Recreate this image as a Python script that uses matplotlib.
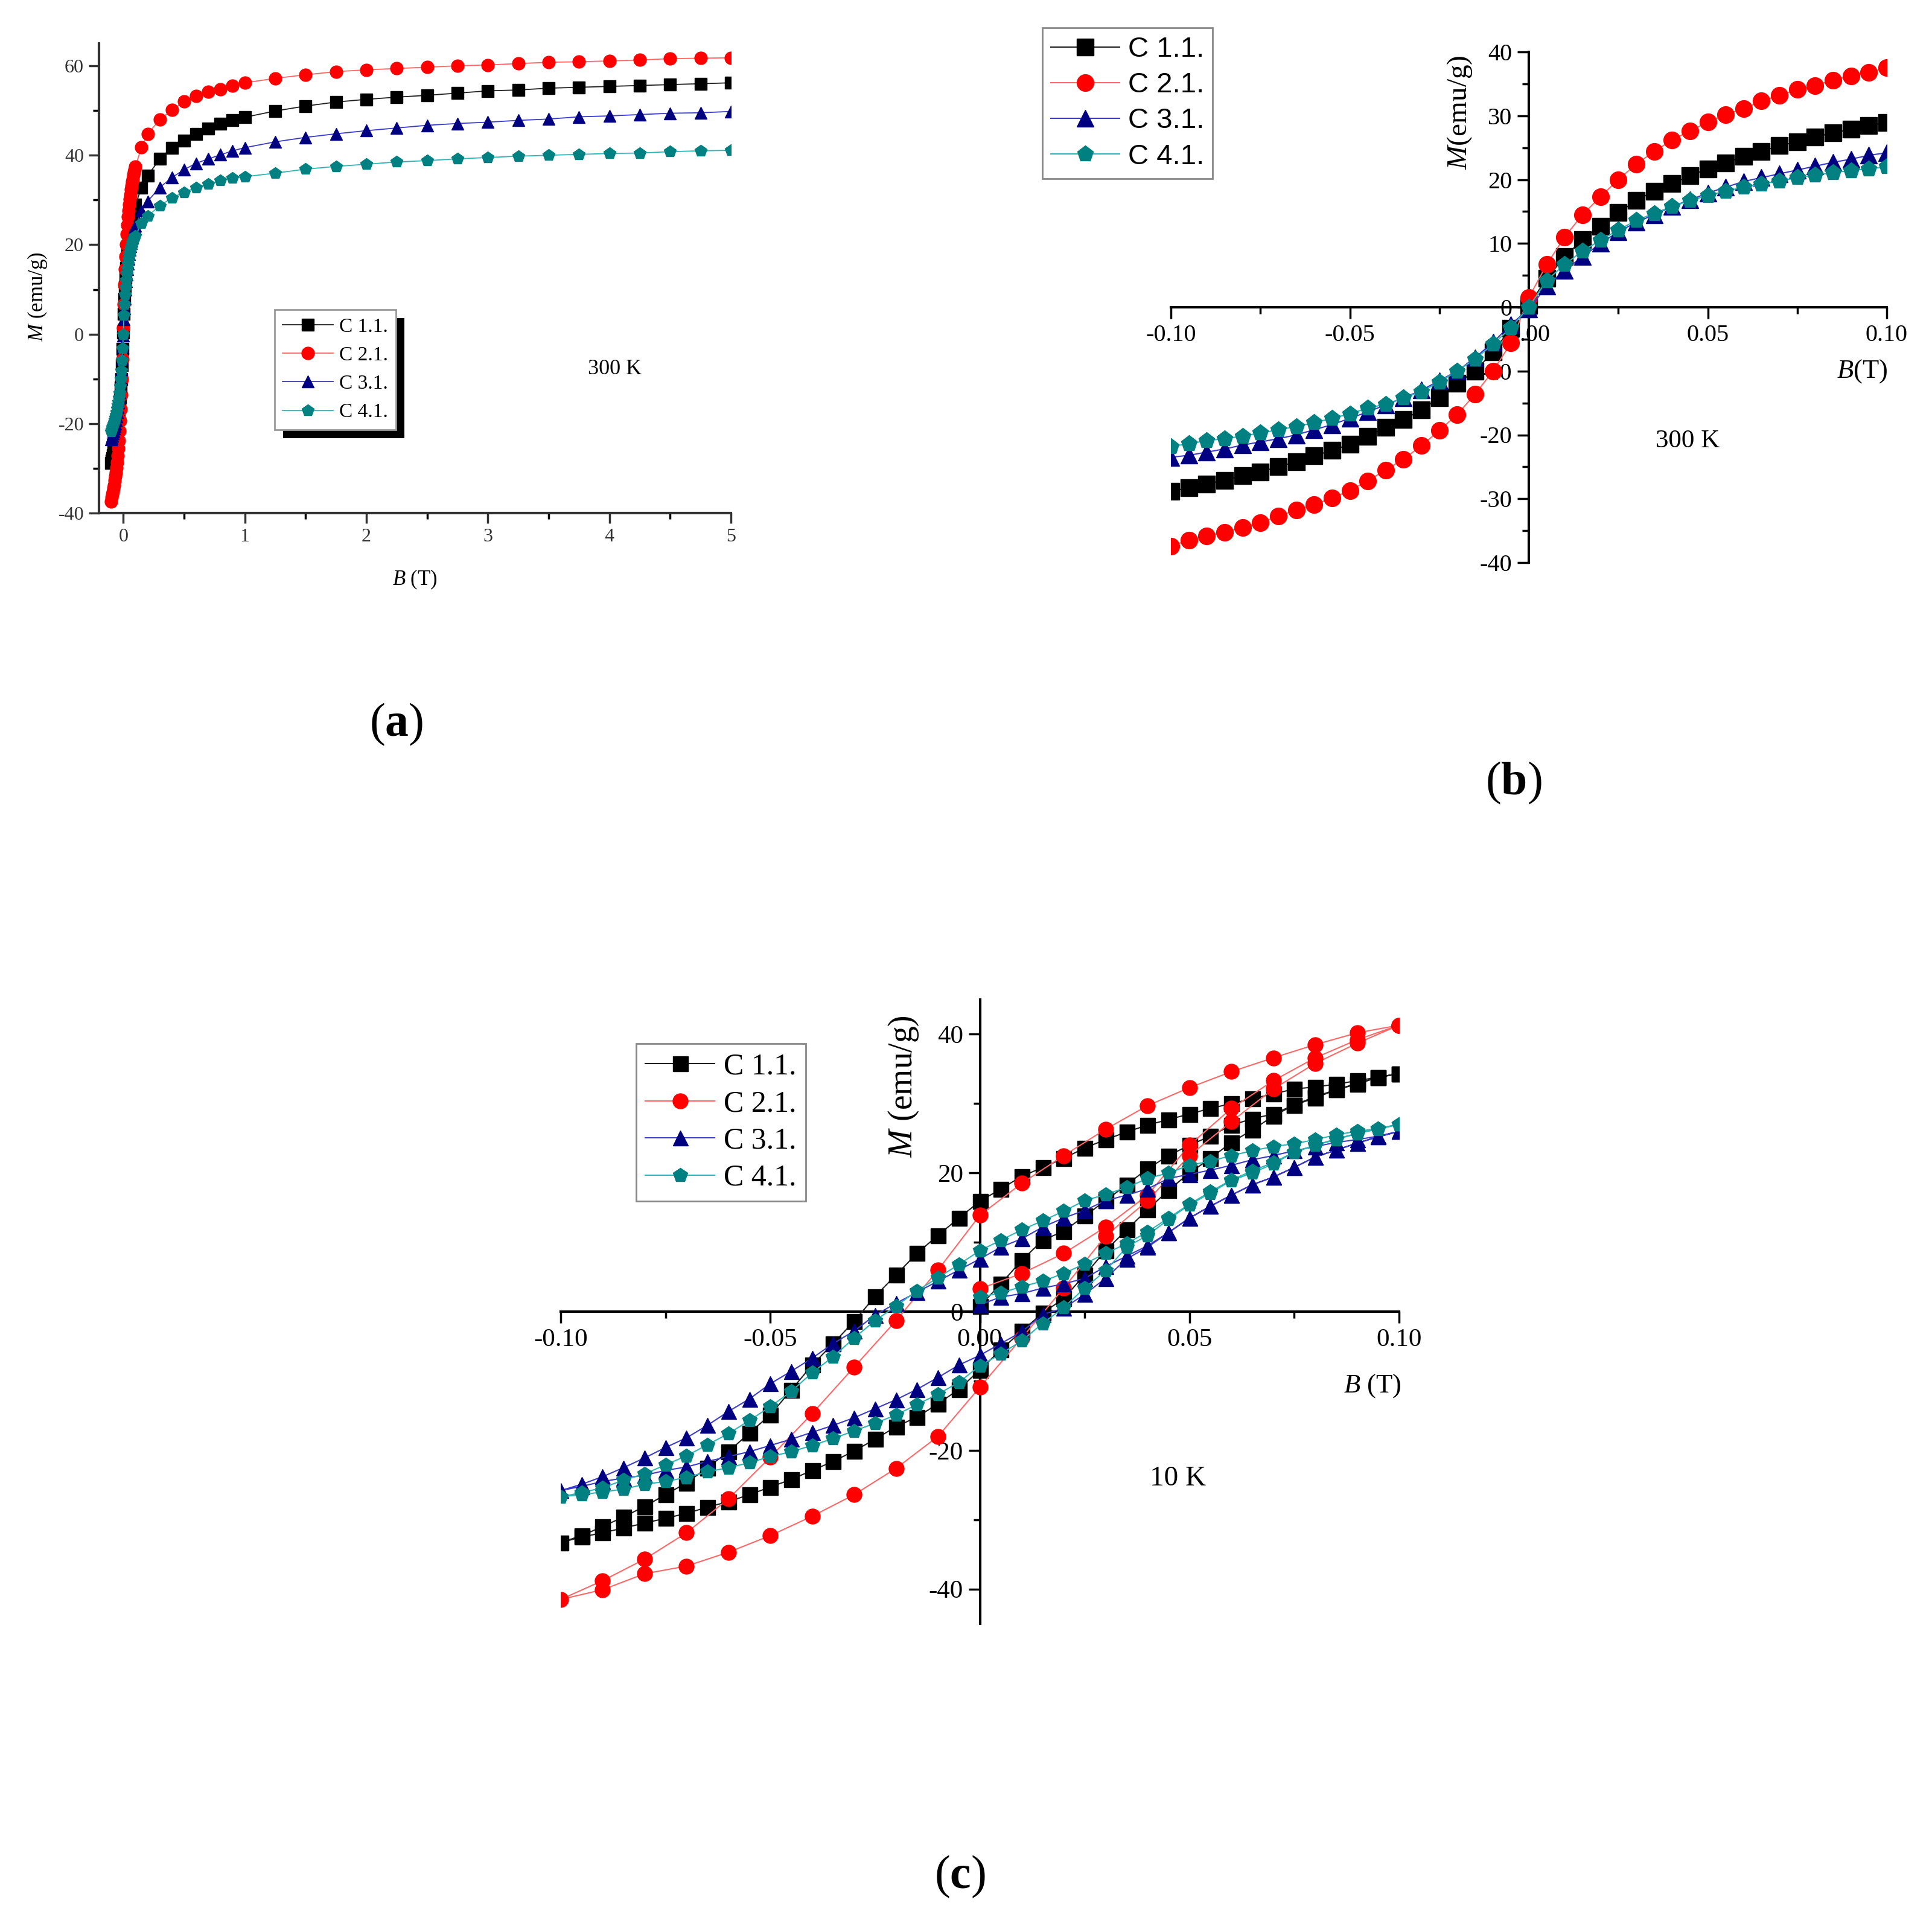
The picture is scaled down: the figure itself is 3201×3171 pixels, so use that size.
import matplotlib
matplotlib.use('Agg')
import matplotlib.pyplot as plt
from matplotlib.ticker import MultipleLocator
from matplotlib.patches import Rectangle

plt.rcParams['font.family'] = ['Liberation Serif', 'DejaVu Serif']
plt.rcParams['mathtext.fontset'] = 'custom'
plt.rcParams['mathtext.rm'] = 'Liberation Serif'
plt.rcParams['mathtext.it'] = 'Liberation Serif:italic'
plt.rcParams['mathtext.bf'] = 'Liberation Serif:bold'
plt.rcParams['axes.unicode_minus'] = False

# ---- data ---------------------------------------------------------------
SAMPLES = ['C 1.1.', 'C 2.1.', 'C 3.1.', 'C 4.1.']

# field sweep used in (b) and low-field part of (a), in T
B_SWEEP = [-0.1, -0.095, -0.09, -0.085, -0.08, -0.075, -0.07, -0.065, -0.06, -0.055,
           -0.05, -0.045, -0.04, -0.035, -0.03, -0.025, -0.02, -0.015, -0.01, -0.005,
           0.0, 0.005, 0.01, 0.015, 0.02, 0.025, 0.03, 0.035, 0.04, 0.045,
           0.05, 0.055, 0.06, 0.065, 0.07, 0.075, 0.08, 0.085, 0.09, 0.095, 0.1]

# 300 K, low field (emu/g)
M300_C11 = [-28.8, -28.3, -27.7, -27.1, -26.4, -25.8, -25.0, -24.2, -23.3, -22.4,
            -21.5, -20.2, -18.8, -17.6, -16.1, -14.2, -11.9, -10.0, -7.0, -3.3,
            0.3, 4.5, 7.9, 10.6, 12.7, 14.8, 16.7, 18.2, 19.4, 20.6,
            21.7, 22.6, 23.6, 24.4, 25.3, 25.9, 26.7, 27.3, 27.9, 28.5, 28.9]
M300_C21 = [-37.4, -36.5, -35.8, -35.3, -34.5, -33.8, -32.7, -31.8, -30.9, -29.9,
            -28.7, -27.2, -25.5, -23.8, -21.7, -19.3, -16.8, -13.6, -10.0, -5.6,
            1.5, 6.7, 11.0, 14.5, 17.3, 20.0, 22.4, 24.4, 26.2, 27.6,
            29.0, 30.2, 31.1, 32.3, 33.2, 34.1, 34.7, 35.6, 36.2, 36.8, 37.5]
M300_C31 = [-23.5, -23.2, -22.7, -22.2, -21.6, -21.1, -20.6, -20.0, -19.2, -18.4,
            -17.4, -16.4, -15.3, -14.2, -13.0, -11.5, -10.0, -7.9, -5.5, -2.7,
            -0.3, 3.3, 5.8, 7.9, 10.0, 11.8, 13.3, 14.5, 15.8, 16.8,
            17.9, 18.8, 19.7, 20.3, 20.9, 21.5, 22.1, 22.7, 23.2, 23.8, 24.2]
M300_C41 = [-21.8, -21.4, -20.9, -20.6, -20.2, -19.7, -19.2, -18.7, -18.1, -17.4,
            -16.7, -15.8, -15.2, -14.2, -13.2, -11.7, -10.0, -8.1, -5.8, -3.2,
            0.0, 4.2, 6.7, 8.8, 10.5, 12.1, 13.6, 14.7, 15.8, 16.7,
            17.5, 18.2, 18.8, 19.3, 19.8, 20.3, 20.7, 21.1, 21.4, 21.7, 22.0]

# 300 K, high field (a)
B_HIGH = [0.15, 0.2, 0.3, 0.4, 0.5, 0.6, 0.7, 0.8, 0.9, 1.0, 1.25, 1.5, 1.75,
          2.0, 2.25, 2.5, 2.75, 3.0, 3.25, 3.5, 3.75, 4.0, 4.25, 4.5, 4.75, 5.0]
MH_C11 = [32.8, 35.4, 39.2, 41.7, 43.3, 44.8, 46.0, 47.0, 47.8, 48.5, 49.9, 51.0, 51.9,
          52.5, 53.0, 53.4, 53.9, 54.4, 54.6, 55.0, 55.2, 55.4, 55.6, 55.8, 56.0, 56.2]
MH_C21 = [41.8, 44.7, 48.0, 50.1, 52.0, 53.2, 54.2, 54.8, 55.5, 56.2, 57.2, 58.0, 58.7,
          59.1, 59.4, 59.7, 60.0, 60.2, 60.5, 60.8, 60.9, 61.1, 61.3, 61.6, 61.7, 61.8]
MH_C31 = [27.6, 29.7, 32.8, 35.0, 36.8, 38.2, 39.2, 40.1, 41.0, 41.7, 43.0, 44.0, 44.8,
          45.5, 46.1, 46.7, 47.1, 47.4, 47.8, 48.1, 48.6, 48.8, 49.1, 49.4, 49.5, 49.8]
MH_C41 = [24.8, 26.4, 28.7, 30.5, 31.7, 32.8, 33.6, 34.3, 34.9, 35.2, 36.0, 36.9, 37.5,
          38.0, 38.5, 38.8, 39.2, 39.5, 39.8, 40.0, 40.2, 40.4, 40.5, 40.8, 41.0, 41.1]

# 10 K hysteresis loops: initial curve (0 -> 0.1), down sweep (0.1 -> -0.1),
# up sweep (-0.1 -> 0.1); C 2.1. was measured in 0.01 T steps
B_INIT = B_SWEEP[20:]
B_DOWN = B_SWEEP[::-1]
B_UP = B_SWEEP[1:]
B_INIT_C = B_SWEEP[20::2]
B_DOWN_C = B_SWEEP[::-2]
B_UP_C = B_SWEEP[2::2]

M10_C11_INIT = [0.8, 4.0, 7.4, 10.3, 11.6, 13.8, 16.0, 18.3, 20.6, 22.5, 24.0,
                25.3, 26.9, 27.8, 28.5, 29.8, 30.8, 32.0, 32.8, 33.8, 34.3]
M10_C11_DOWN = [34.3, 33.8, 33.3, 32.8, 32.4, 32.1, 31.4, 30.7, 30.0, 29.3, 28.5,
                27.7, 26.9, 25.9, 24.8, 23.6, 22.1, 20.8, 19.5, 17.7, 15.9,
                13.5, 11.0, 8.4, 5.3, 2.2, -1.4, -4.6, -7.7, -11.3, -14.9,
                -17.5, -20.2, -22.5, -24.7, -26.4, -28.1, -29.6, -31.0, -32.3, -33.3]
M10_C11_UP = [-32.5, -31.9, -31.2, -30.5, -29.8, -29.1, -28.2, -27.4, -26.4, -25.3,
              -24.2, -22.9, -21.6, -20.1, -18.4, -16.6, -15.2, -13.3, -11.2, -8.4,
              -5.5, -2.8, -0.2, 1.9, 5.3, 8.8, 11.8, 14.7, 17.5, 20.0,
              22.1, 24.4, 26.2, 28.2, 29.8, 31.0, 32.0, 32.9, 33.8, 34.3]

M10_C21_INIT = [3.3, 5.5, 8.4, 12.2, 16.8, 24.0, 29.3, 33.3, 36.6, 39.2, 41.3]
M10_C21_DOWN = [41.3, 40.2, 38.5, 36.6, 34.6, 32.3, 29.7, 26.3, 22.5, 18.5, 13.9,
                6.0, -1.3, -8.0, -14.7, -21.0, -27.0, -31.9, -35.7, -38.8, -41.5]
M10_C21_UP = [-40.1, -37.8, -36.7, -34.7, -32.3, -29.5, -26.4, -22.6, -18.0, -10.9,
              -3.8, 3.4, 10.9, 16.0, 22.5, 27.4, 32.1, 35.8, 38.7, 41.3]

M10_C31_INIT = [1.0, 2.1, 2.6, 3.4, 4.0, 4.8, 6.5, 8.0, 9.5, 11.4, 13.5,
                15.2, 16.8, 18.3, 19.4, 20.8, 22.3, 23.3, 24.3, 25.2, 26.0]
M10_C31_DOWN = [26.0, 25.3, 24.8, 24.4, 23.8, 23.2, 22.5, 21.9, 21.1, 20.4, 19.8,
                19.2, 17.7, 16.8, 16.0, 14.6, 13.5, 12.2, 10.5, 9.3, 7.6,
                6.0, 4.4, 2.8, 1.2, -0.5, -2.8, -4.6, -6.7, -8.6, -10.4,
                -12.6, -14.4, -16.4, -18.2, -19.6, -21.1, -22.5, -23.8, -24.9, -25.8]
M10_C31_UP = [-25.2, -24.5, -24.0, -23.6, -22.9, -22.4, -21.6, -20.9, -20.2, -19.3,
              -18.4, -17.4, -16.4, -15.3, -14.0, -12.7, -11.2, -9.5, -7.7, -6.3,
              -4.6, -2.9, -0.4, 0.5, 2.5, 4.8, 7.6, 9.3, 11.4, 13.5,
              15.2, 16.8, 18.3, 19.4, 20.8, 22.3, 23.3, 24.3, 25.2, 26.0]

M10_C41_INIT = [2.1, 2.7, 3.6, 4.4, 5.5, 6.9, 8.4, 9.8, 11.5, 13.5, 15.5,
                17.3, 19.0, 20.3, 21.5, 23.0, 24.0, 24.9, 25.7, 26.4, 27.0]
M10_C41_DOWN = [27.0, 26.4, 26.0, 25.5, 24.8, 24.2, 23.8, 23.2, 22.5, 21.7, 21.1,
                20.0, 19.2, 17.9, 16.9, 16.0, 14.5, 13.1, 11.8, 10.3, 8.8,
                6.8, 4.9, 3.0, 0.8, -1.3, -3.8, -6.5, -8.8, -11.5, -13.7,
                -15.7, -17.6, -19.2, -20.8, -22.1, -23.4, -24.3, -25.4, -26.1, -26.7]
M10_C41_UP = [-26.4, -26.0, -25.6, -24.9, -24.5, -23.9, -23.1, -22.5, -21.8, -20.9,
              -20.2, -19.3, -18.3, -17.2, -16.1, -14.9, -13.4, -11.9, -10.2, -7.8,
              -6.1, -4.2, -1.7, 0.6, 3.4, 5.9, 9.3, 11.0, 13.3, 15.4,
              17.1, 18.9, 20.0, 21.3, 23.0, 24.0, 24.8, 25.7, 26.3, 27.0]

# ---- styles ---------------------------------------------------------------
MARKERS = ['s', 'o', '^', 'p']
MCOLORS = ['#000000', '#ff0000', '#000080', '#008080']
LCOLORS = ['#202020', '#ff6666', '#3a3acc', '#30b5b5']

W, H = 3201, 3171
fig = plt.figure(figsize=(W / 100, H / 100), dpi=100)


def fx(px):
    return px / W


def fy(py):
    return 1 - py / H


def style_ticks(ax, size, major=14, minor=8, width=2.5):
    ax.tick_params(which='major', direction='out', length=major, width=width,
                   labelsize=size, pad=6)
    ax.tick_params(which='minor', direction='out', length=minor, width=width)


def center_spines(ax, lw=3):
    for s in ['top', 'right']:
        ax.spines[s].set_visible(False)
    for s in ['left', 'bottom']:
        ax.spines[s].set_position(('data', 0))
        ax.spines[s].set_linewidth(lw)


# ---- (a) 300 K full range -------------------------------------------------
ax_a = fig.add_axes([fx(164), fy(850), fx(1211 - 164), (850 - 72) / H])
low = [M300_C11, M300_C21, M300_C31, M300_C41]
high = [MH_C11, MH_C21, MH_C31, MH_C41]
for i in range(4):
    ax_a.plot(B_SWEEP + B_HIGH, low[i] + high[i], color=LCOLORS[i], lw=1.3,
              marker=MARKERS[i], ms=15, mfc=MCOLORS[i], mec=MCOLORS[i],
              label=SAMPLES[i], zorder=3)
ax_a.set_xlim(-0.2, 5)
ax_a.set_ylim(-40, 65)
ax_a.xaxis.set_major_locator(MultipleLocator(1))
ax_a.xaxis.set_minor_locator(MultipleLocator(0.5))
ax_a.yaxis.set_major_locator(MultipleLocator(20))
ax_a.yaxis.set_minor_locator(MultipleLocator(10))
for s in ['top', 'right']:
    ax_a.spines[s].set_visible(False)
for s in ['left', 'bottom']:
    ax_a.spines[s].set_linewidth(3)
    ax_a.spines[s].set_color('#333333')
style_ticks(ax_a, 23, major=12, minor=7)
ax_a.tick_params(colors='#333333')
leg_a = ax_a.legend(loc='upper left', bbox_to_anchor=(fx(455), fy(513)),
                    bbox_transform=fig.transFigure, borderaxespad=0,
                    fontsize=24, fancybox=False, framealpha=1, edgecolor='#999999',
                    handlelength=2.5, labelspacing=0.5, handletextpad=0.3,
                    borderpad=0.4)
leg_a.get_frame().set_linewidth(2)
leg_a.set_zorder(6)
fig.text(fx(687), fy(960), r'$B$ (T)', fontsize=25, ha='center', va='center')
fig.text(fx(62), fy(492), r'$M$ (emu/g)', fontsize=25, rotation=90,
         ha='center', va='center')
fig.text(fx(1019), fy(612), '300 K', fontsize=26, ha='center', va='center')
fig.text(fx(657), fy(1200), r'($\mathbf{a}$)', fontsize=56, ha='center', va='center')

# ---- (b) 300 K low field ----------------------------------------------------
ax_b = fig.add_axes([fx(1940), fy(932), fx(3126 - 1940), (932 - 86) / H])
for i, m in enumerate([M300_C11, M300_C21, M300_C31, M300_C41]):
    ax_b.plot(B_SWEEP, m, color=LCOLORS[i], lw=1.5, marker=MARKERS[i], ms=20,
              mfc=MCOLORS[i], mec=MCOLORS[i], label=SAMPLES[i], zorder=3)
ax_b.set_xlim(-0.1, 0.1)
ax_b.set_ylim(-40, 40)
ax_b.xaxis.set_major_locator(MultipleLocator(0.05))
ax_b.xaxis.set_minor_locator(MultipleLocator(0.025))
ax_b.yaxis.set_major_locator(MultipleLocator(10))
ax_b.yaxis.set_minor_locator(MultipleLocator(5))
ax_b.xaxis.set_major_formatter(lambda v, p: f'{v:.2f}')
ax_b.yaxis.set_major_formatter(lambda v, p: f'{v:.0f}')
center_spines(ax_b)
style_ticks(ax_b, 29)
leg_b = ax_b.legend(loc='upper left', bbox_to_anchor=(fx(1727), fy(46)),
                    bbox_transform=fig.transFigure, borderaxespad=0,
                    prop={'family': 'Liberation Sans', 'size': 34}, fancybox=False,
                    framealpha=1, edgecolor='#888888', handlelength=2.4,
                    labelspacing=0.32, handletextpad=0.3, borderpad=0.3)
leg_b.get_frame().set_linewidth(2)
fig.text(fx(3085), fy(615), r'$B$(T)', fontsize=32, ha='center', va='center')
fig.text(fx(2418), fy(186), r'$M$(emu/g)', fontsize=34, rotation=90,
         ha='center', va='center')
fig.text(fx(2796), fy(731), '300 K', fontsize=31, ha='center', va='center')
fig.text(fx(2508), fy(1297), r'($\mathbf{b}$)', fontsize=56, ha='center', va='center')

# ---- (c) 10 K hysteresis -----------------------------------------------------
ax_c = fig.add_axes([fx(929), fy(2690), fx(2318 - 929), (2690 - 1656) / H])
loops = [
    (B_INIT + B_DOWN + B_UP, M10_C11_INIT + M10_C11_DOWN + M10_C11_UP),
    (B_INIT_C + B_DOWN_C + B_UP_C, M10_C21_INIT + M10_C21_DOWN + M10_C21_UP),
    (B_INIT + B_DOWN + B_UP, M10_C31_INIT + M10_C31_DOWN + M10_C31_UP),
    (B_INIT + B_DOWN + B_UP, M10_C41_INIT + M10_C41_DOWN + M10_C41_UP),
]
for i, (bx, my) in enumerate(loops):
    ax_c.plot(bx, my, color=LCOLORS[i], lw=1.5, marker=MARKERS[i], ms=18,
              mfc=MCOLORS[i], mec=MCOLORS[i], label=SAMPLES[i], zorder=3)
ax_c.set_xlim(-0.1, 0.1)
ax_c.set_ylim(-45, 45)
ax_c.xaxis.set_major_locator(MultipleLocator(0.05))
ax_c.xaxis.set_minor_locator(MultipleLocator(0.025))
ax_c.yaxis.set_major_locator(MultipleLocator(20))
ax_c.yaxis.set_minor_locator(MultipleLocator(10))
ax_c.xaxis.set_major_formatter(lambda v, p: f'{v:.2f}')
ax_c.yaxis.set_major_formatter(lambda v, p: f'{v:.0f}')
center_spines(ax_c)
style_ticks(ax_c, 31)
leg_c = ax_c.legend(loc='upper left', bbox_to_anchor=(fx(1054), fy(1729)),
                    bbox_transform=fig.transFigure, borderaxespad=0,
                    fontsize=36, fancybox=False, framealpha=1, edgecolor='#888888',
                    handlelength=2.3, labelspacing=0.3, handletextpad=0.3,
                    borderpad=0.3)
leg_c.get_frame().set_linewidth(2)
fig.text(fx(2274), fy(2296), r'$B$ (T)', fontsize=32, ha='center', va='center')
fig.text(fx(1497), fy(1800), r'$M$ (emu/g)', fontsize=40, rotation=90,
         ha='center', va='center')
fig.text(fx(1952), fy(2450), '10 K', fontsize=34, ha='center', va='center')
fig.text(fx(1590), fy(3109), r'($\mathbf{c}$)', fontsize=56, ha='center', va='center')

# black drop shadow behind legend (a)
fig.canvas.draw()
bb = leg_a.get_window_extent()
inv = ax_a.transAxes.inverted()
(x0, y0), (x1, y1) = inv.transform([(bb.x0 + 14, bb.y0 - 14), (bb.x1 + 14, bb.y1 - 14)])
ax_a.add_patch(Rectangle((x0, y0), x1 - x0, y1 - y0, transform=ax_a.transAxes,
                         facecolor='black', edgecolor='none', clip_on=False, zorder=5))

fig.savefig('out.png', dpi=100)
